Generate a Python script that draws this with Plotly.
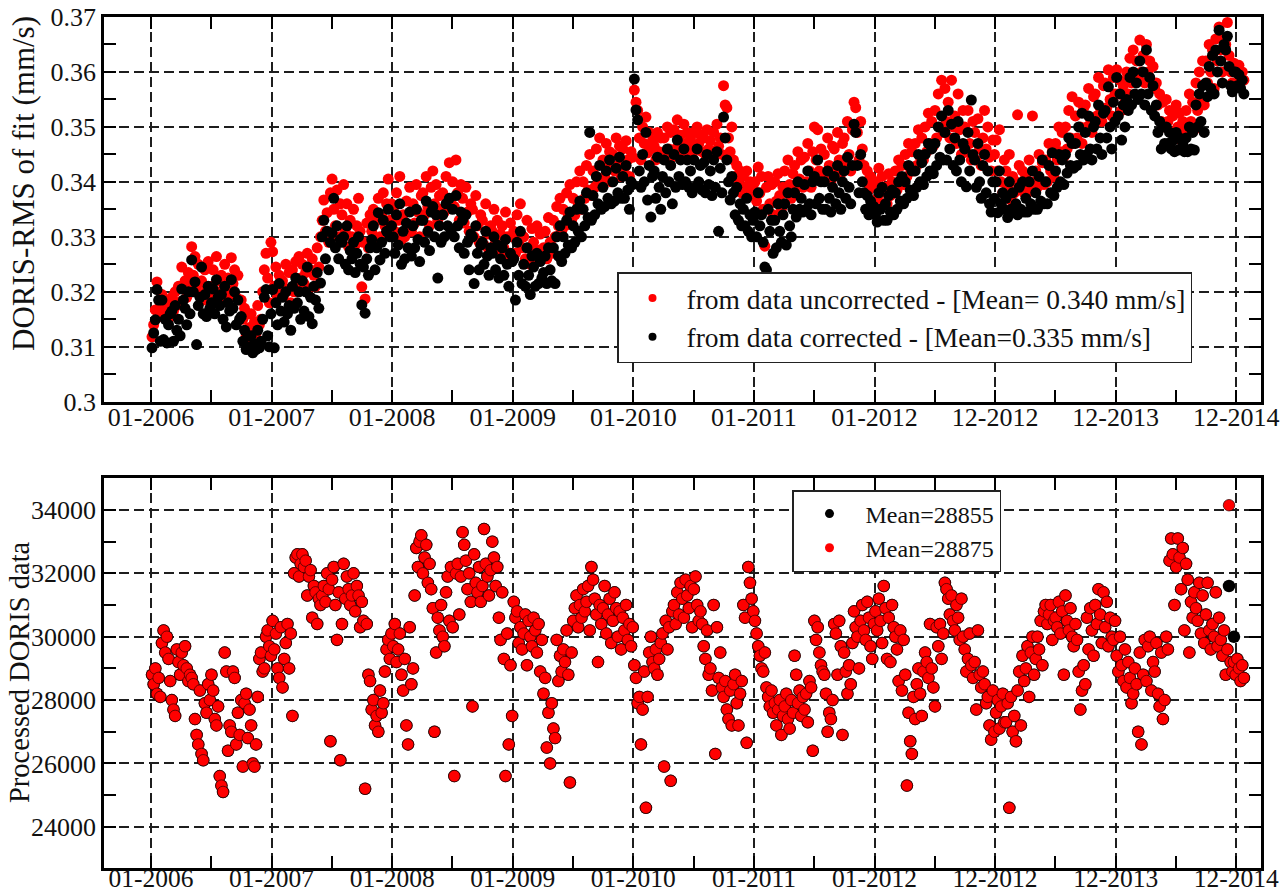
import numpy as np
import plotly.graph_objects as go

# ---------------- DATA ----------------
# Sampling of the series: one value every 5 days, first value on day 3 after 01-01-2006.
START_DAY = 3
STEP_DAYS = 5
DAYS_PER_TICK = 365  # x-axis ticks are 365 days apart

tick_positions = [0, 1, 2, 3, 4, 5, 6, 7, 8, 9]
tick_labels = ["01-2006", "01-2007", "01-2008", "01-2009", "01-2010",
               "01-2011", "01-2012", "12-2012", "12-2013", "12-2014"]

# DORIS RMS of fit, unit = 1e-4 mm/s, uncorrected data (red)
rms_uncorr_2006 = [3118, 3140, 3167, 3218, 3155, 3180, 3195, 3170, 3162, 3185, 3150, 3178,
                   3190, 3165, 3200, 3175, 3210, 3182, 3245, 3209, 3220, 3190, 3235, 3215,
                   3282, 3230, 3264, 3210, 3250, 3195, 3220, 3185, 3240, 3205, 3255, 3190,
                   3210, 3240, 3195, 3264, 3220, 3200, 3230, 3185, 3250, 3205, 3225, 3195,
                   3262, 3215, 3240, 3190, 3230, 3185, 3185, 3150, 3170, 3120, 3160, 3135,
                   3160, 3113, 3145, 3125, 3175, 3140, 3150, 3200, 3240, 3270, 3225, 3180, 3290]
rms_uncorr_2007 = [3273, 3210, 3245, 3190, 3230, 3205, 3220, 3195, 3250, 3205, 3235, 3180,
                   3240, 3200, 3255, 3215, 3264, 3225, 3250, 3215, 3235, 3270, 3205, 3240,
                   3260, 3230, 3210, 3280, 3245, 3300, 3330, 3367, 3310, 3344, 3290, 3380,
                   3405, 3350, 3320, 3385, 3300, 3360, 3340, 3395, 3310, 3360, 3282, 3330,
                   3300, 3350, 3285, 3320, 3370, 3310, 3209, 3290, 3187, 3325, 3280, 3340,
                   3310, 3350, 3290, 3330, 3370, 3300, 3340, 3380, 3320, 3360, 3405, 3330, 3360]
rms_uncorr_2008 = [3350, 3310, 3380, 3330, 3410, 3295, 3340, 3300, 3365, 3320, 3390, 3310,
                   3360, 3325, 3395, 3345, 3300, 3375, 3380, 3340, 3410, 3355, 3320, 3390,
                   3420, 3360, 3395, 3330, 3375, 3350, 3380, 3345, 3410, 3370, 3435, 3360,
                   3400, 3355, 3440, 3380, 3330, 3395, 3370, 3325, 3390, 3345, 3310, 3360,
                   3350, 3300, 3375, 3320, 3290, 3340, 3330, 3285, 3360, 3305, 3275, 3320,
                   3310, 3350, 3290, 3330, 3270, 3305, 3320, 3280, 3345, 3300, 3265, 3325, 3300]
rms_uncorr_2009 = [3310, 3270, 3340, 3290, 3360, 3280, 3300, 3260, 3330, 3280, 3250, 3315,
                   3290, 3255, 3320, 3275, 3305, 3265, 3280, 3310, 3260, 3335, 3290, 3270,
                   3330, 3300, 3355, 3320, 3370, 3310, 3350, 3320, 3380, 3340, 3395, 3330,
                   3370, 3340, 3400, 3360, 3420, 3350, 3400, 3370, 3430, 3385, 3450, 3375,
                   3420, 3390, 3460, 3405, 3480, 3395, 3440, 3410, 3470, 3425, 3455, 3400,
                   3450, 3420, 3480, 3430, 3465, 3410, 3460, 3425, 3475, 3440, 3410, 3455, 3445]
rms_uncorr_2010 = [3567, 3545, 3530, 3480, 3440, 3500, 3470, 3518, 3453, 3490, 3460, 3475,
                   3465, 3440, 3490, 3455, 3480, 3450, 3480, 3453, 3500, 3460, 3490, 3445,
                   3495, 3460, 3513, 3470, 3485, 3455, 3505, 3470, 3490, 3460, 3480, 3450,
                   3490, 3465, 3500, 3470, 3485, 3455, 3480, 3450, 3495, 3460, 3475, 3445,
                   3490, 3455, 3505, 3465, 3480, 3450, 3575, 3540, 3535, 3480, 3455, 3500,
                   3440, 3410, 3430, 3395, 3420, 3380, 3410, 3390, 3420, 3385, 3400, 3375, 3395]
rms_uncorr_2011 = [3400, 3365, 3427, 3380, 3410, 3350, 3283, 3390, 3410, 3360, 3395, 3340,
                   3400, 3365, 3415, 3375, 3350, 3390, 3420, 3380, 3440, 3395, 3370, 3415,
                   3430, 3395, 3455, 3405, 3440, 3390, 3445, 3400, 3470, 3420, 3390, 3455,
                   3500, 3440, 3495, 3420, 3460, 3410, 3450, 3410, 3480, 3430, 3400, 3465,
                   3460, 3420, 3490, 3440, 3415, 3470, 3480, 3430, 3510, 3450, 3420, 3495,
                   3545, 3535, 3490, 3440, 3510, 3460, 3430, 3400, 3420, 3385, 3410, 3395, 3400]
rms_uncorr_2012 = [3400, 3370, 3425, 3380, 3410, 3360, 3390, 3360, 3415, 3375, 3400, 3380,
                   3420, 3385, 3440, 3400, 3430, 3395, 3450, 3410, 3470, 3425, 3455, 3420,
                   3470, 3430, 3495, 3445, 3480, 3440, 3500, 3455, 3525, 3470, 3510, 3465,
                   3530, 3480, 3560, 3500, 3585, 3490, 3570, 3510, 3545, 3480, 3585, 3500,
                   3520, 3470, 3560, 3495, 3450, 3530, 3500, 3455, 3530, 3470, 3440, 3510,
                   3490, 3440, 3515, 3460, 3430, 3480, 3530, 3460, 3500, 3445, 3420, 3476, 3450]
rms_uncorr_2013 = [3476, 3420, 3495, 3400, 3380, 3440, 3420, 3390, 3450, 3367, 3410, 3380,
                   3400, 3522, 3430, 3390, 3420, 3380, 3410, 3380, 3440, 3395, 3520, 3400,
                   3420, 3390, 3450, 3400, 3435, 3395, 3440, 3400, 3470, 3420, 3455, 3410,
                   3470, 3440, 3500, 3455, 3490, 3445, 3500, 3460, 3530, 3480, 3555, 3470,
                   3520, 3480, 3545, 3500, 3470, 3535, 3540, 3500, 3570, 3515, 3490, 3555,
                   3560, 3520, 3590, 3535, 3510, 3575, 3580, 3535, 3604, 3550, 3520, 3590, 3560]
rms_uncorr_2014 = [3604, 3560, 3585, 3530, 3575, 3545, 3600, 3560, 3625, 3580, 3640, 3590,
                   3620, 3590, 3658, 3600, 3630, 3580, 3650, 3600, 3620, 3580, 3610, 3570,
                   3580, 3540, 3560, 3510, 3545, 3500, 3550, 3510, 3530, 3490, 3520, 3480,
                   3540, 3500, 3525, 3476, 3510, 3490, 3530, 3500, 3560, 3510, 3545, 3495,
                   3580, 3530, 3600, 3550, 3620, 3540, 3620, 3580, 3650, 3600, 3640, 3570,
                   3660, 3620, 3682, 3640, 3600, 3660, 3650, 3690, 3630, 3600, 3580, 3616,
                   3605, 3598, 3612, 3590, 3600, 3585]

# DORIS RMS of fit, unit = 1e-4 mm/s, corrected data (black)
rms_corr_2006 = [3098, 3125, 3149, 3204, 3185, 3110, 3185, 3113, 3150, 3107, 3140, 3160,
                 3165, 3110, 3175, 3130, 3150, 3120, 3205, 3185, 3170, 3140, 3200, 3160,
                 3258, 3200, 3218, 3104, 3175, 3190, 3245, 3160, 3195, 3155, 3210, 3170,
                 3180, 3205, 3160, 3222, 3190, 3175, 3195, 3150, 3210, 3136, 3180, 3165,
                 3222, 3170, 3200, 3140, 3185, 3150, 3155, 3110, 3130, 3095, 3120, 3100,
                 3120, 3089, 3105, 3095, 3130, 3098, 3110, 3150, 3190, 3204, 3120, 3100, 3160]
rms_corr_2007 = [3204, 3098, 3180, 3140, 3215, 3165, 3190, 3145, 3200, 3160, 3175, 3130,
                 3210, 3170, 3225, 3180, 3200, 3150, 3220, 3165, 3200, 3245, 3155, 3190,
                 3142, 3210, 3185, 3235, 3170, 3216, 3300, 3330, 3260, 3310, 3240, 3290,
                 3307, 3370, 3280, 3320, 3260, 3295, 3290, 3300, 3250, 3320, 3240, 3275,
                 3260, 3290, 3235, 3270, 3300, 3250, 3176, 3245, 3161, 3260, 3230, 3280,
                 3295, 3320, 3240, 3280, 3344, 3258, 3290, 3330, 3270, 3310, 3350, 3300, 3320]
rms_corr_2008 = [3300, 3270, 3340, 3285, 3360, 3250, 3310, 3260, 3325, 3280, 3345, 3265,
                 3320, 3280, 3350, 3295, 3255, 3330, 3330, 3290, 3365, 3310, 3275, 3345,
                 3355, 3300, 3340, 3225, 3320, 3290, 3340, 3300, 3360, 3320, 3370, 3310,
                 3350, 3300, 3375, 3320, 3280, 3345, 3330, 3270, 3340, 3290, 3240, 3305,
                 3300, 3215, 3320, 3270, 3240, 3285, 3290, 3250, 3310, 3265, 3230, 3280,
                 3270, 3300, 3240, 3285, 3225, 3260, 3280, 3230, 3295, 3250, 3210, 3270, 3255]
rms_corr_2009 = [3260, 3185, 3290, 3230, 3310, 3215, 3250, 3210, 3280, 3230, 3195, 3265,
                 3245, 3210, 3270, 3215, 3255, 3225, 3235, 3265, 3215, 3280, 3240, 3220,
                 3280, 3215, 3300, 3265, 3320, 3255, 3300, 3270, 3330, 3285, 3345, 3280,
                 3320, 3290, 3350, 3310, 3365, 3300, 3350, 3320, 3380, 3335, 3490, 3330,
                 3375, 3340, 3410, 3360, 3430, 3350, 3390, 3355, 3420, 3370, 3440, 3360,
                 3400, 3365, 3425, 3380, 3445, 3370, 3410, 3370, 3430, 3385, 3350, 3400, 3395]
rms_corr_2010 = [3587, 3531, 3513, 3420, 3390, 3450, 3400, 3490, 3367, 3430, 3336, 3410,
                 3420, 3370, 3445, 3390, 3350, 3410, 3440, 3380, 3460, 3400, 3430, 3360,
                 3450, 3390, 3476, 3410, 3440, 3395, 3460, 3400, 3440, 3390, 3420, 3380,
                 3440, 3390, 3460, 3400, 3430, 3385, 3435, 3380, 3450, 3395, 3420, 3375,
                 3440, 3390, 3455, 3310, 3425, 3380, 3518, 3480, 3440, 3400, 3367, 3410,
                 3380, 3340, 3390, 3330, 3360, 3320, 3350, 3320, 3370, 3310, 3340, 3300, 3330]
rms_corr_2011 = [3345, 3300, 3380, 3320, 3340, 3290, 3245, 3240, 3350, 3310, 3330, 3270,
                 3330, 3280, 3360, 3310, 3290, 3340, 3360, 3285, 3380, 3320, 3300, 3350,
                 3380, 3336, 3400, 3350, 3370, 3345, 3395, 3350, 3420, 3360, 3340, 3400,
                 3410, 3360, 3440, 3370, 3400, 3350, 3400, 3350, 3420, 3370, 3345, 3390,
                 3410, 3360, 3430, 3380, 3350, 3400, 3420, 3370, 3445, 3390, 3360, 3430,
                 3505, 3490, 3430, 3380, 3450, 3400, 3380, 3350, 3375, 3340, 3365, 3345, 3355]
rms_corr_2012 = [3340, 3327, 3380, 3350, 3390, 3330, 3360, 3330, 3375, 3345, 3385, 3340,
                 3380, 3350, 3400, 3365, 3410, 3360, 3400, 3370, 3430, 3385, 3420, 3375,
                 3420, 3390, 3450, 3400, 3435, 3395, 3450, 3410, 3470, 3420, 3460, 3415,
                 3470, 3430, 3500, 3445, 3520, 3440, 3490, 3440, 3530, 3460, 3505, 3430,
                 3480, 3420, 3510, 3440, 3400, 3470, 3460, 3391, 3490, 3420, 3549, 3450,
                 3440, 3390, 3470, 3400, 3370, 3430, 3450, 3380, 3420, 3360, 3345, 3400, 3370]
rms_corr_2013 = [3400, 3344, 3420, 3360, 3380, 3350, 3370, 3335, 3400, 3350, 3380, 3345,
                 3360, 3340, 3390, 3350, 3400, 3345, 3370, 3345, 3400, 3360, 3420, 3350,
                 3380, 3350, 3410, 3365, 3440, 3360, 3400, 3360, 3430, 3380, 3453, 3375,
                 3420, 3390, 3450, 3400, 3440, 3395, 3450, 3416, 3480, 3430, 3470, 3425,
                 3470, 3430, 3500, 3450, 3525, 3440, 3490, 3450, 3520, 3460, 3440, 3500,
                 3510, 3460, 3540, 3480, 3450, 3525, 3530, 3480, 3573, 3500, 3460, 3545, 3510]
rms_corr_2014 = [3590, 3520, 3560, 3476, 3540, 3500, 3550, 3530, 3590, 3540, 3600, 3560,
                 3580, 3550, 3620, 3560, 3600, 3540, 3640, 3560, 3590, 3530, 3575, 3520,
                 3540, 3490, 3510, 3460, 3500, 3470, 3500, 3470, 3490, 3460, 3475, 3455,
                 3490, 3458, 3480, 3460, 3470, 3455, 3480, 3455, 3500, 3460, 3490, 3458,
                 3540, 3500, 3560, 3510, 3575, 3490, 3580, 3555, 3610, 3570, 3630, 3560,
                 3640, 3600, 3676, 3620, 3580, 3650, 3640, 3665, 3610, 3575, 3564, 3600,
                 3600, 3575, 3595, 3570, 3585, 3560]

# Processed DORIS data, unit = 10 observations (red series, uncorrected)
processed_2006 = [2880, 2850, 2900, 2820, 2870, 2810, 2980, 3020, 2950, 3000, 2930, 2860,
                  2800, 2770, 2750, 2960, 2920, 2880, 2950, 2910, 2970, 2900, 2860, 2880,
                  2870, 2850, 2740, 2690, 2660, 2830, 2630, 2610, 2790, 2760, 2850, 2800,
                  2880, 2830, 2740, 2720, 2780, 2560, 2530, 2510, 2950, 2890, 2640, 2720,
                  2700, 2890, 2870, 2660, 2760, 2690, 2800, 2590, 2790, 2820, 2680, 2770,
                  2720, 2600, 2590, 2660, 2810, 2930, 2950, 2890, 2900, 3000, 3020, 2970, 2940]
processed_2007 = [3050, 2960, 3010, 2900, 2870, 3030, 2840, 2930, 2980, 3040, 2900, 3010,
                  2750, 3200, 3250, 3260, 3190, 3230, 3260, 3220, 3240, 3130, 3190, 3210,
                  3060, 3160, 3140, 3040, 3120, 3100, 3130, 3160, 3110, 3200, 3150, 2670,
                  3180, 3220, 3100, 2990, 3140, 2610, 3040, 3230, 3120, 3190, 3150, 3100,
                  3130, 3200, 3080, 3160, 3130, 3030, 3110, 3050, 2520, 3040, 2880, 2860,
                  2770, 2800, 2720, 2750, 2700, 2830, 2760, 2790, 2890, 2960, 2990, 2930, 3010]
processed_2008 = [2970, 3040, 2920, 2960, 3010, 2880, 2830, 2930, 2720, 2660, 3030, 2850,
                  2900, 3130, 3280, 3220, 3300, 3320, 3200, 3250, 3290, 3170, 3230, 3150,
                  3090, 2700, 2950, 3060, 3020, 3100, 3000, 2970, 3140, 3190, 3050, 3220,
                  3030, 2560, 3200, 3230, 3070, 3190, 3330, 3290, 3240, 3150, 3200, 3110,
                  2780, 3260, 3170, 3140, 3220, 3110, 3160, 3340, 3230, 3190, 3130, 3210,
                  3300, 3250, 3160, 3220, 3060, 2990, 3140, 2930, 2560, 3010, 2660, 2910, 2750]
processed_2009 = [3110, 3060, 3080, 2980, 3030, 2960, 3010, 3070, 2910, 3050, 3000, 2970,
                  3060, 3020, 2950, 3040, 2890, 2990, 2820, 2870, 2650, 2760, 2600, 2790,
                  2710, 2680, 2990, 2860, 2940, 2890, 2960, 2920, 3020, 2880, 2540, 2950,
                  3050, 3090, 3130, 3030, 3100, 3060, 3150, 3080, 3110, 3160, 3020, 3220,
                  3180, 3120, 3070, 2920, 3100, 3040, 3090, 3160, 3010, 3070, 3120, 2980,
                  3050, 3140, 3090, 3000, 3080, 2960, 3060, 3020, 3100, 2990, 3040, 2970, 3030]
processed_2010 = [2910, 2870, 2790, 2810, 2660, 2770, 2890, 2460, 2810, 2950, 3000, 2920,
                  2900, 2960, 2880, 2930, 2980, 3010, 2590, 3050, 2960, 3030, 2545, 3080,
                  3100, 3040, 3140, 3070, 3170, 3120, 3060, 3180, 3130, 3090, 3160, 3030,
                  3150, 3190, 3100, 3050, 3080, 3040, 2970, 2930, 3020, 2880, 2900, 2830,
                  3100, 2630, 3030, 2870, 2950, 2840, 2810, 2860, 2770, 2740, 2830, 2720,
                  2850, 2880, 2790, 2720, 2820, 2860, 3100, 3060, 2665, 3220, 3170, 3120, 3080]
processed_2011 = [3050, 3010, 2970, 2940, 2900, 2890, 2950, 2840, 2810, 2780, 2830, 2760,
                  2790, 2720, 2770, 2800, 2690, 2750, 2780, 2820, 2740, 2710, 2800, 2760,
                  2940, 2880, 2790, 2830, 2750, 2810, 2770, 2820, 2730, 2860, 2840, 2640,
                  3050, 2990, 3030, 2950, 2910, 2890, 2880, 2820, 2700, 2760, 2740, 2800,
                  3040, 3010, 2880, 3050, 2970, 2690, 2950, 2890, 2820, 2910, 2850, 2980,
                  3080, 3030, 3000, 2900, 3050, 3100, 3020, 2990, 3110, 3060, 2970, 2930, 3040]
processed_2012 = [3080, 3020, 3120, 3050, 2980, 3160, 3090, 2930, 3060, 2920, 3100, 3030,
                  3000, 2960, 2860, 3020, 2830, 2990, 2880, 2530, 2760, 2670, 2630, 2810,
                  2740, 2850, 2900, 2820, 2750, 2890, 2950, 2920, 2870, 3040, 2900, 2840,
                  2780, 3030, 2970, 3040, 2930, 3010, 3170, 3150, 3120, 3070, 3130, 3050,
                  3020, 3100, 3060, 2990, 3120, 3000, 2960, 2890, 2930, 3010, 2910, 2870,
                  2920, 2770, 3020, 2880, 2840, 2890, 2850, 2790, 2810, 2720, 2675, 2830, 2700]
processed_2013 = [2760, 2800, 2710, 2780, 2820, 2730, 2730, 2790, 2460, 2810, 2700, 2750,
                  2670, 2830, 2890, 2720, 2940, 2860, 2900, 2970, 2810, 2950, 3000, 2880,
                  2930, 3000, 2960, 3050, 2910, 3080, 3100, 3040, 3070, 3100, 2990, 3050,
                  3060, 3030, 3110, 3010, 3080, 2880, 3130, 3050, 3020, 3090, 3000, 2970,
                  3040, 2990, 2890, 2770, 2830, 2910, 2850, 3060, 2960, 3090, 3020, 2940,
                  3100, 3040, 3150, 3070, 2980, 3140, 3030, 3110, 2970, 3060, 3000, 2990, 3050]
processed_2014 = [2940, 2890, 3000, 2910, 2860, 2960, 2840, 2920, 2870, 2790, 2820, 2900,
                  2850, 2700, 2950, 2660, 2880, 2990, 2860, 2970, 3000, 2830, 2920, 2890,
                  2980, 2820, 2780, 2950, 2740, 2800, 3000, 2960, 3240, 3310, 3260, 3100,
                  3220, 3310, 3250, 3150, 3280, 3020, 3230, 3180, 2950, 3110, 3060, 3140,
                  3090, 3050, 3170, 3010, 3130, 2980, 3070, 3170, 3020, 2960, 3040, 3000,
                  3140, 2970, 3060, 2990, 2940, 3020, 2880, 2960, 3415, 2920, 2890, 2920,
                  2880, 2930, 2900, 2860, 2910, 2870]
# corrected series (black): identical to the red one except in late 2014
processed_corr_2014 = [2940, 2890, 3000, 2910, 2860, 2960, 2840, 2920, 2870, 2790, 2820, 2900,
                       2850, 2700, 2950, 2660, 2880, 2990, 2860, 2970, 3000, 2830, 2920, 2890,
                       2980, 2820, 2780, 2950, 2740, 2800, 3000, 2960, 3240, 3310, 3260, 3100,
                       3220, 3310, 3250, 3150, 3280, 3020, 3230, 3180, 2950, 3110, 3060, 3140,
                       3090, 3050, 3170, 3010, 3130, 2980, 3070, 3170, 3020, 2960, 3040, 3000,
                       3140, 2970, 3060, 2990, 2940, 3020, 2880, 2960, 3160, 2920, 2890, 3000,
                       2880, 2930, 2900, 2860, 2910, 2870]

legend_top = ["from data uncorrected - [Mean= 0.340 mm/s]",
              "from data corrected - [Mean=0.335 mm/s]"]
legend_bottom = ["Mean=28855", "Mean=28875"]

# ---------------- ASSEMBLY ----------------
rms_uncorr = np.concatenate([rms_uncorr_2006, rms_uncorr_2007, rms_uncorr_2008, rms_uncorr_2009,
                             rms_uncorr_2010, rms_uncorr_2011, rms_uncorr_2012, rms_uncorr_2013,
                             rms_uncorr_2014]) / 1e4
rms_corr = np.concatenate([rms_corr_2006, rms_corr_2007, rms_corr_2008, rms_corr_2009,
                           rms_corr_2010, rms_corr_2011, rms_corr_2012, rms_corr_2013,
                           rms_corr_2014]) / 1e4
common_years = [processed_2006, processed_2007, processed_2008, processed_2009,
                processed_2010, processed_2011, processed_2012, processed_2013]
proc_uncorr = np.concatenate(common_years + [processed_2014]) * 10
proc_corr = np.concatenate(common_years + [processed_corr_2014]) * 10

x_rms = (START_DAY + STEP_DAYS * np.arange(len(rms_uncorr))) / DAYS_PER_TICK
x_proc = (START_DAY + STEP_DAYS * np.arange(len(proc_uncorr))) / DAYS_PER_TICK

RED = "#ff0000"
BLACK = "#000000"
FONT = "Liberation Serif"

fig = go.Figure()

# top panel
fig.add_trace(go.Scatter(x=x_rms, y=rms_uncorr, mode="markers", xaxis="x", yaxis="y",
                         marker=dict(color=RED, size=11), showlegend=False, hoverinfo="skip"))
fig.add_trace(go.Scatter(x=x_rms, y=rms_corr, mode="markers", xaxis="x", yaxis="y",
                         marker=dict(color=BLACK, size=11), showlegend=False, hoverinfo="skip"))
# bottom panel
fig.add_trace(go.Scatter(x=x_proc, y=proc_corr, mode="markers", xaxis="x2", yaxis="y2",
                         marker=dict(color=BLACK, size=12.5), showlegend=False, hoverinfo="skip"))
fig.add_trace(go.Scatter(x=x_proc, y=proc_uncorr, mode="markers", xaxis="x2", yaxis="y2",
                         marker=dict(color=RED, size=11.5, line=dict(width=0.7, color="#300000")),
                         showlegend=False, hoverinfo="skip"))

# legend entries
fig.add_trace(go.Scatter(x=[None], y=[None], mode="markers", xaxis="x", yaxis="y",
                         marker=dict(color=RED, size=8), name=legend_top[0],
                         legend="legend", legendgroup="t1"))
fig.add_trace(go.Scatter(x=[None], y=[None], mode="markers", xaxis="x", yaxis="y",
                         marker=dict(color=BLACK, size=8), name=legend_top[1],
                         legend="legend", legendgroup="t2"))
fig.add_trace(go.Scatter(x=[None], y=[None], mode="markers", xaxis="x2", yaxis="y2",
                         marker=dict(color=BLACK, size=9), name=legend_bottom[0],
                         legend="legend2", legendgroup="b1"))
fig.add_trace(go.Scatter(x=[None], y=[None], mode="markers", xaxis="x2", yaxis="y2",
                         marker=dict(color=RED, size=9), name=legend_bottom[1],
                         legend="legend2", legendgroup="b2"))

tickfont = dict(family=FONT, size=26, color="#111111")
base_axis = dict(showline=True, linecolor="black", linewidth=2.5, mirror="allticks",
                 ticks="inside", ticklen=12, tickwidth=1.5, tickcolor="black",
                 showgrid=True, gridcolor="#1e1e1e", gridwidth=1.6, griddash="10px,5px",
                 zeroline=False, tickfont=tickfont, automargin=False)

minor_x = [p + 0.5 for p in tick_positions[:-1]]
xaxis_cfg = dict(base_axis, range=[-0.39, 9.205], tickmode="array",
                 tickvals=tick_positions, ticktext=tick_labels,
                 minor=dict(tickmode="array", tickvals=minor_x, ticks="inside", ticklen=12,
                            tickwidth=1.5, tickcolor="black", showgrid=False))

top_ticks = [0.30, 0.31, 0.32, 0.33, 0.34, 0.35, 0.36, 0.37]
top_ticktext = ["0.3", "0.31", "0.32", "0.33", "0.34", "0.35", "0.36", "0.37"]
bot_ticks = [24000, 26000, 28000, 30000, 32000, 34000]

H_PLOT_TOP, H_PLOT_BOT = 17, 868
def pyf(px):  # pixel row -> paper fraction of plot area
    return (H_PLOT_BOT - px) / (H_PLOT_BOT - H_PLOT_TOP)
def pxf(px):
    return (px - 104) / (1261 - 104)

fig.update_layout(
    width=1287, height=895, autosize=False,
    margin=dict(l=104, r=26, t=17, b=27, pad=0, autoexpand=False),
    paper_bgcolor="white", plot_bgcolor="white",
    font=dict(family=FONT, color="#111111"),
    showlegend=True,
    xaxis=dict(xaxis_cfg, anchor="y", domain=[0, 1], ticklabelstandoff=-10),
    yaxis=dict(base_axis, anchor="x", domain=[pyf(401.7), 1], range=[0.3, 0.37],
               tickmode="array", tickvals=top_ticks, ticktext=top_ticktext,
               minor=dict(tickmode="array", tickvals=[0.305, 0.315, 0.325, 0.335, 0.345, 0.355, 0.365],
                          ticks="inside", ticklen=12, tickwidth=1.5, tickcolor="black",
                          showgrid=False)),
    xaxis2=dict(xaxis_cfg, anchor="y2", domain=[0, 1], ticklabelstandoff=-14,
                tickfont=dict(family=FONT, size=25.5, color="#111111")),
    yaxis2=dict(base_axis, anchor="x2", domain=[0, pyf(478.3)], range=[22700, 35000],
                tickmode="array", tickvals=bot_ticks, ticktext=[str(v) for v in bot_ticks],
                minor=dict(tickmode="array", tickvals=[25000, 27000, 29000, 31000, 33000],
                           ticks="inside", ticklen=12, tickwidth=1.5, tickcolor="black",
                           showgrid=False)),
    legend=dict(x=pxf(617), y=pyf(272), xanchor="left", yanchor="top",
                bgcolor="white", bordercolor="#222222", borderwidth=1.5,
                font=dict(family=FONT, size=27.5, color="#111111"),
                itemwidth=58, tracegroupgap=0, itemclick=False),
    legend2=dict(x=pxf(792), y=pyf(490), xanchor="left", yanchor="top",
                 bgcolor="white", bordercolor="#222222", borderwidth=1.5,
                 font=dict(family=FONT, size=24, color="#111111"),
                 itemwidth=62, tracegroupgap=0, itemclick=False),
    annotations=[
        dict(text="DORIS-RMS of fit (mm/s)", xref="paper", yref="paper",
             x=pxf(23), y=pyf(184), textangle=-90, showarrow=False,
             xanchor="center", yanchor="middle",
             font=dict(family=FONT, size=31, color="#111111")),
        dict(text="Processed DORIS data", xref="paper", yref="paper",
             x=pxf(19), y=pyf(672), textangle=-90, showarrow=False,
             xanchor="center", yanchor="middle",
             font=dict(family=FONT, size=28.5, color="#111111")),
    ],
)

fig.write_html("out.html")
